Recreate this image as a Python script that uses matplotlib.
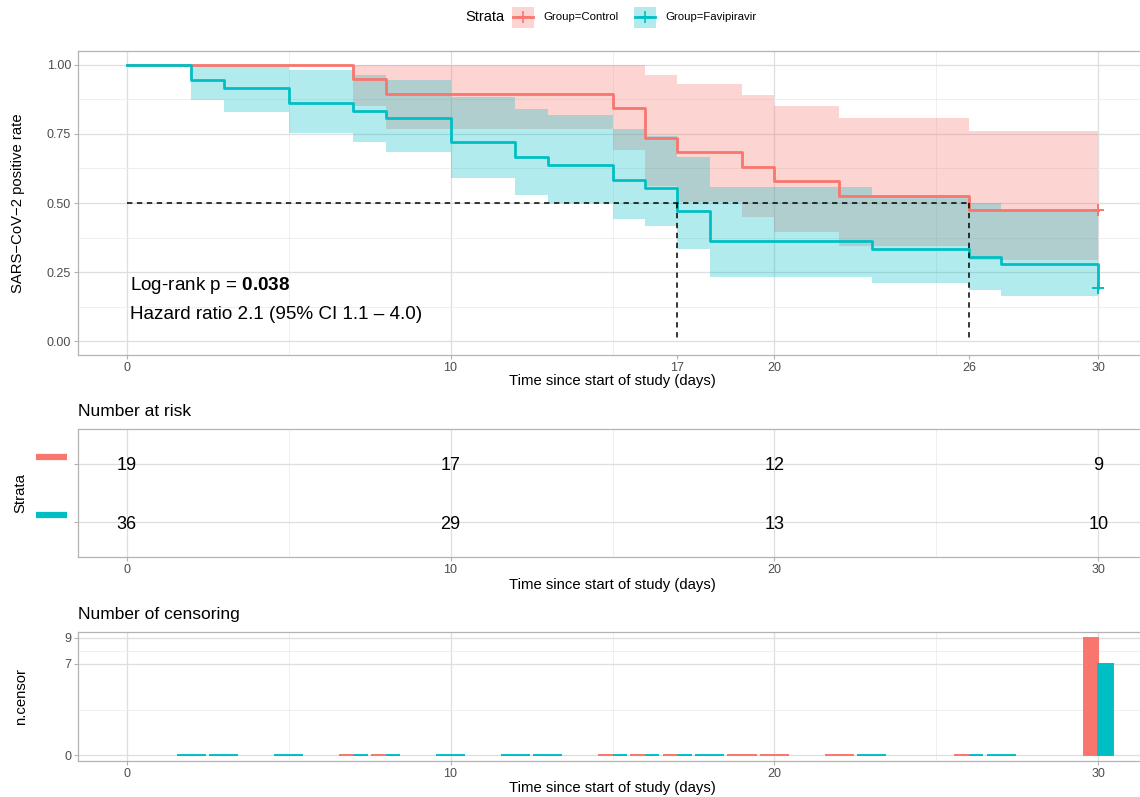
import matplotlib
matplotlib.use('Agg')
import matplotlib.pyplot as plt
import matplotlib.transforms as mtransforms
from matplotlib.patches import Rectangle
from matplotlib.lines import Line2D

plt.rcParams['font.family'] = ['Liberation Sans', 'DejaVu Sans']
plt.rcParams['mathtext.fontset'] = 'custom'
plt.rcParams['mathtext.rm'] = 'Liberation Sans'
plt.rcParams['mathtext.bf'] = 'Liberation Sans:bold'

RED = '#F8766D'
TEAL = '#00BFC4'
BORDER = '#B3B3B3'
GRID_MAJOR = '#DEDEDE'
GRID_MINOR = '#EDEDED'
TICKTXT = '#4D4D4D'

W, H = 1140, 797

# --- survival curves ---
ctrl_time = [0, 7, 8, 15, 16, 17, 19, 20, 22, 26, 30]
ctrl_surv = [1.0, 0.947, 0.895, 0.842, 0.737, 0.684, 0.632, 0.579, 0.526, 0.474, 0.474]
ctrl_lower = [1.0, 0.852, 0.767, 0.693, 0.563, 0.504, 0.448, 0.395, 0.344, 0.295, 0.295]
ctrl_upper = [1.0, 1.0, 1.0, 1.0, 0.964, 0.929, 0.890, 0.850, 0.806, 0.761, 0.761]

favi_time = [0, 2, 3, 5, 7, 8, 10, 12, 13, 15, 16, 17, 18, 23, 26, 27, 30]
favi_surv = [1.0, 0.944, 0.917, 0.861, 0.833, 0.806, 0.722, 0.667, 0.639, 0.583,
             0.556, 0.472, 0.361, 0.333, 0.306, 0.278, 0.194]
favi_lower = [1.0, 0.873, 0.831, 0.755, 0.720, 0.686, 0.590, 0.529, 0.500, 0.443,
              0.415, 0.334, 0.234, 0.210, 0.187, 0.164, 0.164]
favi_upper = [1.0, 1.0, 1.0, 0.982, 0.964, 0.946, 0.884, 0.840, 0.817, 0.769,
              0.744, 0.667, 0.558, 0.529, 0.500, 0.470, 0.470]

median_times = [17, 26]
main_xticks = [0, 10, 17, 20, 26, 30]

# --- number at risk ---
risk_times = [0, 10, 20, 30]
ctrl_risk = [19, 17, 12, 9]
favi_risk = [36, 29, 13, 10]

# --- number of censoring ---
ctrl_cens_time = [7, 8, 15, 16, 17, 19, 20, 22, 26, 30]
ctrl_cens = [0, 0, 0, 0, 0, 0, 0, 0, 0, 9]
favi_cens_time = [2, 3, 5, 7, 8, 10, 12, 13, 15, 16, 17, 18, 23, 26, 27, 30]
favi_cens = [0, 0, 0, 0, 0, 0, 0, 0, 0, 0, 0, 0, 0, 0, 0, 7]

XLIM = (-1.5, 31.5)


def axes_px(left, top, right, bottom):
    return [left / W, 1 - bottom / H, (right - left) / W, (bottom - top) / H]


def style_panel(ax, xmajor, xminor, ymajor, yminor):
    ax.set_xlim(*XLIM)
    for s in ax.spines.values():
        s.set_color(BORDER)
        s.set_linewidth(0.9)
    ax.spines['right'].set_visible(False)
    ax.set_xticks(xmajor)
    ax.set_xticks(xminor, minor=True)
    ax.set_yticks(ymajor)
    ax.set_yticks(yminor, minor=True)
    ax.tick_params(which='major', length=3, color=BORDER, labelcolor=TICKTXT,
                   labelsize=9, pad=2)
    ax.tick_params(which='minor', length=0)
    ax.set_axisbelow(True)


def grid_lines(ax, xmajor, xminor, ymajor, yminor):
    for x in xmajor:
        ax.axvline(x, color=GRID_MAJOR, lw=0.9, zorder=0)
    for x in xminor:
        ax.axvline(x, color=GRID_MINOR, lw=0.6, zorder=0)
    for y in ymajor:
        ax.axhline(y, color=GRID_MAJOR, lw=0.9, zorder=0)
    for y in yminor:
        ax.axhline(y, color=GRID_MINOR, lw=0.6, zorder=0)


fig = plt.figure(figsize=(W / 100, H / 100), dpi=100)

# ================= main survival panel =================
ax = fig.add_axes(axes_px(78, 51, 1147, 355))
ax.set_ylim(-0.05, 1.05)
style_panel(ax, main_xticks, [5, 15, 25], [0, 0.25, 0.5, 0.75, 1.0],
            [0.125, 0.375, 0.625, 0.875])
grid_lines(ax, [0, 10, 20, 30], [5, 15, 25], [0, 0.25, 0.5, 0.75, 1.0],
           [0.125, 0.375, 0.625, 0.875])
ax.set_yticklabels(['0.00', '0.25', '0.50', '0.75', '1.00'])

for t, lo, up, c in [(ctrl_time, ctrl_lower, ctrl_upper, RED),
                     (favi_time, favi_lower, favi_upper, TEAL)]:
    ax.fill_between(t, lo, up, step='post', color=c, alpha=0.3, lw=0, zorder=2)
for t, s, c in [(ctrl_time, ctrl_surv, RED), (favi_time, favi_surv, TEAL)]:
    ax.step(t, s, where='post', color=c, lw=2.0, zorder=3)
    ax.plot([t[-1]], [s[-1]], marker='+', ms=9, mew=1.4, color=c, zorder=4)

# median survival lines
ax.plot([0, max(median_times)], [0.5, 0.5], color='black', lw=1.1,
        ls=(0, (3.5, 3)), zorder=5)
for m in median_times:
    ax.plot([m, m], [0.5, 0], color='black', lw=1.1, ls=(0, (3.5, 3)), zorder=5)

ax.text(0.1, 0.203, r'Log-rank p = $\mathbf{0.038}$', fontsize=13.6,
        va='center', ha='left', zorder=6)
ax.text(0.1, 0.098, 'Hazard ratio 2.1 (95% CI 1.1 \u2013 4.0)', fontsize=13.6,
        va='center', ha='left', zorder=6)

ax.set_xlabel('Time since start of study (days)', fontsize=10.7, va='center')
ax.xaxis.set_label_coords(0.5, (355 - 381) / 304)
ax.set_ylabel('SARS\u2212CoV\u22122 positive rate', fontsize=10.7, va='center')
ax.yaxis.set_label_coords((18 - 78) / 1069, 0.5)

# ================= legend (top) =================
fig.text(465 / W, 1 - 17 / H, 'Strata', fontsize=10.5, va='center', ha='left')
for kx, tx, c, lab in [(512, 543, RED, 'Group=Control'),
                       (634, 665, TEAL, 'Group=Favipiravir')]:
    fig.add_artist(Rectangle((kx / W, 1 - 28 / H), 22 / W, 21 / H,
                             transform=fig.transFigure, color=c, alpha=0.3, lw=0))
    fig.add_artist(Line2D([(kx + 1) / W, (kx + 21) / W], [1 - 17 / H, 1 - 17 / H],
                          transform=fig.transFigure, color=c, lw=2))
    fig.add_artist(Line2D([(kx + 11) / W], [1 - 17 / H], transform=fig.transFigure,
                          color=c, marker='+', ms=8, mew=1.2))
    fig.text(tx / W, 1 - 17 / H, lab, fontsize=8.2, va='center', ha='left')

# ================= number at risk =================
axr = fig.add_axes(axes_px(78, 429, 1147, 557))
axr.set_ylim(-0.6, 1.6)
style_panel(axr, [0, 10, 20, 30], [5, 15, 25], [0, 1], [])
grid_lines(axr, [0, 10, 20, 30], [5, 15, 25], [0, 1], [])
axr.set_yticklabels(['', ''])
for row, vals in [(1, ctrl_risk), (0, favi_risk)]:
    for t, v in zip(risk_times, vals):
        axr.text(t, row, str(v), fontsize=13, ha='center', va='center_baseline')
lab_tr = mtransforms.blended_transform_factory(fig.transFigure, axr.transData) + \
    mtransforms.ScaledTranslation(0, 7 / 100, fig.dpi_scale_trans)
for row, c in [(1, RED), (0, TEAL)]:
    axr.plot([36 / W, 67 / W], [row, row], color=c, lw=4.5, transform=lab_tr,
             clip_on=False, solid_capstyle='butt')
axr.set_xlabel('Time since start of study (days)', fontsize=10.7, va='center')
axr.xaxis.set_label_coords(0.5, (557 - 585) / 128)
axr.set_ylabel('Strata', fontsize=10.7, va='center')
axr.yaxis.set_label_coords((20 - 78) / 1069, 0.5)
fig.text(78 / W, 1 - 411 / H, 'Number at risk', fontsize=12.5, va='center', ha='left')

# ================= number of censoring =================
axc = fig.add_axes(axes_px(78, 632, 1147, 761))
axc.set_ylim(-0.45, 9.45)
style_panel(axc, [0, 10, 20, 30], [5, 15, 25], [0, 7, 9], [3.5, 8])
grid_lines(axc, [0, 10, 20, 30], [5, 15, 25], [0, 7, 9], [3.5, 8])

ctrl_set = set(ctrl_cens_time)
favi_set = set(favi_cens_time)
for times, counts, c, side, other in [(ctrl_cens_time, ctrl_cens, RED, -1, favi_set),
                                      (favi_cens_time, favi_cens, TEAL, 1, ctrl_set)]:
    for t, n in zip(times, counts):
        if t in other:
            x, w = t + side * 0.225, 0.45
        else:
            x, w = t, 0.9
        axc.bar(x, n, width=w, color=c, edgecolor=c, lw=1.4, zorder=3)

axc.set_xlabel('Time since start of study (days)', fontsize=10.7, va='center')
axc.xaxis.set_label_coords(0.5, (761 - 788) / 129)
axc.set_ylabel('n.censor', fontsize=10.7, va='center')
axc.yaxis.set_label_coords((21 - 78) / 1069, 0.5)
fig.text(78 / W, 1 - 614 / H, 'Number of censoring', fontsize=12.5, va='center',
         ha='left')

fig.savefig('out.png', dpi=100)
